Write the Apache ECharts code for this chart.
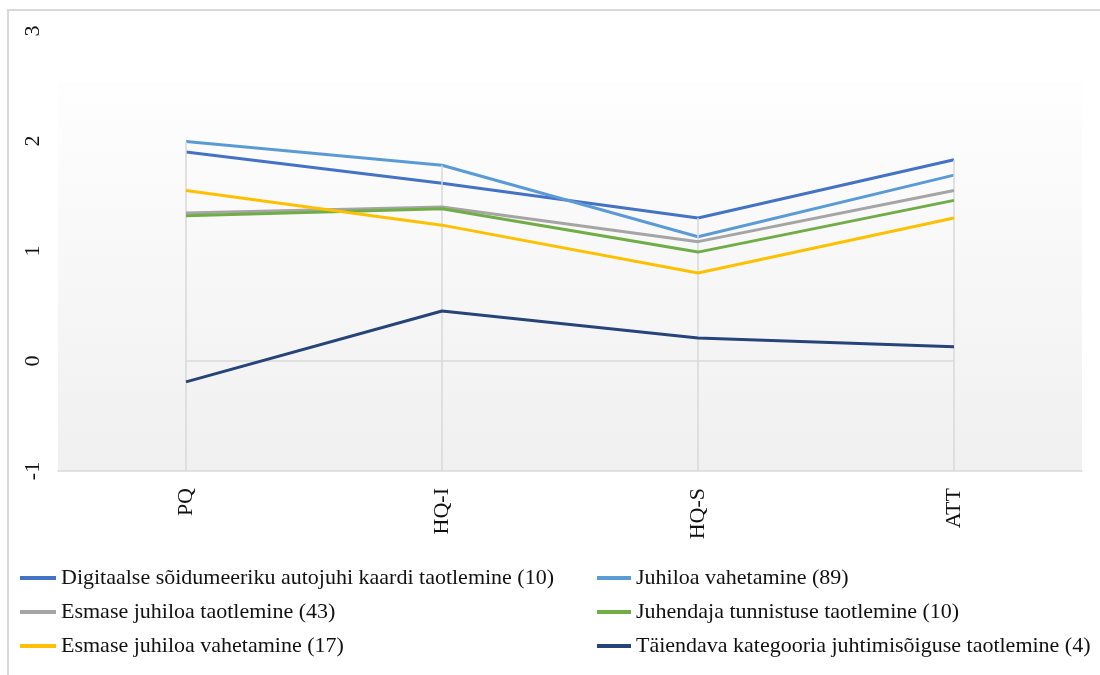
<!DOCTYPE html>
<html>
<head>
<meta charset="utf-8">
<script src="https://cdn.jsdelivr.net/npm/echarts@6/dist/echarts.min.js"></script>
<style>
  html, body { margin: 0; padding: 0; background: #fff; }
  #chart { width: 1100px; height: 675px; }
</style>
</head>
<body>
<div id="chart"></div>
<script>
// Categories on the horizontal axis
const categories = ['PQ', 'HQ-I', 'HQ-S', 'ATT'];

// Series names (legend text)
const seriesNames = [
  'Digitaalse sõidumeeriku autojuhi kaardi taotlemine (10)',
  'Juhiloa vahetamine (89)',
  'Esmase juhiloa taotlemine (43)',
  'Juhendaja tunnistuse taotlemine (10)',
  'Esmase juhiloa vahetamine (17)',
  'Täiendava kategooria juhtimisõiguse taotlemine (4)'
];

// Values per series
const digitaalseKaart = [1.90, 1.615, 1.30, 1.83];
const juhiloaVahetamine = [1.995, 1.78, 1.13, 1.69];
const esmaseTaotlemine = [1.345, 1.40, 1.085, 1.55];
const juhendajaTunnistus = [1.32, 1.385, 0.99, 1.46];
const esmaseVahetamine = [1.55, 1.235, 0.80, 1.30];
const taiendavKategooria = [-0.19, 0.455, 0.21, 0.13];

// Reference level drawn between the first and last category
const zeroLevel = [0, 0, 0, 0];

// Value axis
const yMin = -1, yMax = 3, yStep = 1;

const seriesValues = [
  digitaalseKaart, juhiloaVahetamine, esmaseTaotlemine,
  juhendajaTunnistus, esmaseVahetamine, taiendavKategooria
];
const seriesColors = ['#4472C4', '#5B9BD5', '#A5A5A5', '#70AD47', '#FFC000', '#264478'];

const textFont = '"Liberation Serif", "Times New Roman", serif';
const gridGray = '#d9d9d9';

// Drop lines: from the highest point in each category down to the axis
const dropLines = categories.map((c, i) => {
  const top = Math.max(...seriesValues.map(s => s[i]));
  return [{ coord: [c, top] }, { coord: [c, yMin] }];
});

const lineSeries = seriesNames.map((name, k) => ({
  name,
  type: 'line',
  data: seriesValues[k],
  symbol: 'none',
  z: 3 + k,
  lineStyle: { width: 3, color: seriesColors[k] },
  itemStyle: { color: seriesColors[k] }
}));

const guideSeries = {
  name: 'zero',
  type: 'line',
  data: zeroLevel,
  symbol: 'none',
  silent: true,
  z: 1,
  lineStyle: { width: 1.5, color: gridGray },
  itemStyle: { color: gridGray },
  markLine: {
    silent: true,
    symbol: ['none', 'none'],
    label: { show: false },
    lineStyle: { color: gridGray, width: 1.5, type: 'solid' },
    emphasis: { disabled: true },
    data: dropLines
  }
};

const legendText = { fontFamily: textFont, fontSize: 22, color: '#111' };

const chart = echarts.init(document.getElementById('chart'), null, { renderer: 'canvas' });
chart.setOption({
  animation: false,
  backgroundColor: '#ffffff',
  graphic: [
    {
      type: 'rect', z: -10, silent: true,
      shape: { x: 8, y: 10, width: 1200, height: 800 },
      style: { fill: 'none', stroke: gridGray, lineWidth: 2 }
    },
    {
      type: 'rect', z: -9, silent: true,
      shape: { x: 58, y: 82, width: 1024, height: 389 },
      style: {
        fill: new echarts.graphic.LinearGradient(0, 0, 0, 1, [
          { offset: 0, color: '#fefefe' },
          { offset: 1, color: '#f0f0f0' }
        ])
      }
    }
  ],
  grid: { left: 58, right: 18, top: 31, bottom: 204, containLabel: false },
  xAxis: {
    type: 'category',
    data: categories,
    boundaryGap: true,
    axisLine: { show: true, onZero: false, lineStyle: { color: gridGray, width: 1.5 } },
    axisTick: { show: false },
    axisLabel: {
      rotate: 90, margin: 17,
      fontFamily: textFont, fontSize: 22, color: '#111'
    },
    splitLine: { show: false }
  },
  yAxis: {
    type: 'value',
    min: yMin, max: yMax, interval: yStep,
    axisLine: { show: false },
    axisTick: { show: false },
    splitLine: { show: false },
    axisLabel: {
      rotate: 90, margin: 14,
      fontFamily: textFont, fontSize: 22, color: '#111'
    }
  },
  legend: [
    {
      data: [seriesNames[0], seriesNames[2], seriesNames[4]],
      orient: 'vertical', left: 20, top: 567, padding: 0,
      itemWidth: 36, itemHeight: 4, itemGap: 12,
      icon: 'rect', textStyle: legendText
    },
    {
      data: [seriesNames[1], seriesNames[3], seriesNames[5]],
      orient: 'vertical', left: 597, top: 567, padding: 0,
      itemWidth: 34, itemHeight: 4, itemGap: 12,
      icon: 'rect', textStyle: legendText
    }
  ],
  series: [guideSeries].concat(lineSeries)
});
</script>
</body>
</html>
